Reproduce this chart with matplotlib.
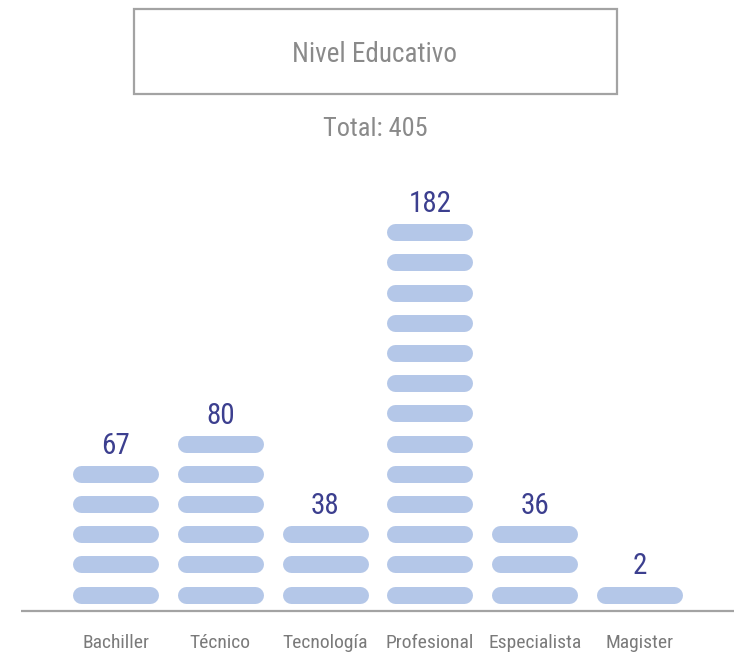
import matplotlib
matplotlib.use("Agg")
import matplotlib.pyplot as plt
from matplotlib.patches import Rectangle

categories = ["Bachiller", "Técnico", "Tecnología", "Profesional", "Especialista", "Magister"]
values = [67, 80, 38, 182, 36, 2]
pills = [5, 6, 3, 13, 3, 1]
title = "Nivel Educativo"
total_label = "Total: 405"

plt.rcParams["font.family"] = ["Roboto Condensed", "DejaVu Sans"]

W, H = 734, 652
fig = plt.figure(figsize=(W / 100, H / 100), dpi=100)
ax = fig.add_axes([0, 0, 1, 1])
ax.axis("off")

# pixel mapping: x_px = 116 + 104.8*i ; y_px = 594.5 - 30.2*k
px_x, x0 = 104.8, 115.5
px_y, y0 = 30.2, 594.5
ax.set_xlim(-x0 / px_x, (W - x0) / px_x)
ax.set_ylim((y0 - H) / px_y, y0 / px_y)

pill_color = "#b4c7e8"
half = (43 - 8.5) / px_x
lw_pt = 17 * 0.72
for i, (n, v) in enumerate(zip(pills, values)):
    for k in range(n):
        ax.plot([i - half, i + half], [k, k], color=pill_color, lw=lw_pt,
                solid_capstyle="round", zorder=2)
    ax.text(i, (n - 1) + 20 / px_y, str(v), ha="center", va="baseline",
            fontsize=21, color="#3c3f8f", zorder=3)
    ax.text(i, (y0 - 648) / px_y, categories[i], ha="center", va="baseline",
            fontsize=14, color="#7a7a7a")

# baseline axis line
ax.plot([(21 - x0) / px_x, (W - x0) / px_x], [(y0 - 610.5) / px_y] * 2,
        color="#a3a3a3", lw=1.6, solid_capstyle="butt", zorder=1)

# title box (figure pixel coordinates)
fx = lambda p: p / W
fy = lambda p: 1 - p / H
fig.patches.append(Rectangle((fx(133.5), fy(94)), fx(617) - fx(133.5), fy(9.5) - fy(94),
                             transform=fig.transFigure, fill=False,
                             edgecolor="#a3a3a3", lw=1.6))
fig.text(fx(374), fy(62), title, ha="center", va="baseline", fontsize=19.5, color="#8a8a8a")
fig.text(fx(375), fy(136), total_label, ha="center", va="baseline", fontsize=19, color="#8a8a8a")

fig.savefig("out.png", dpi=100)
